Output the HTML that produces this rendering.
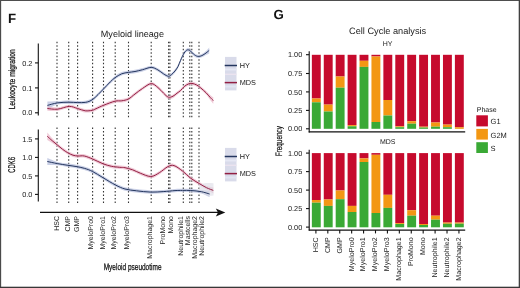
<!DOCTYPE html>
<html><head><meta charset="utf-8"><style>
html,body{margin:0;padding:0;background:#fff;}
svg{display:block;font-family:"Liberation Sans",sans-serif;text-rendering:geometricPrecision;will-change:transform;}
</style></head><body>
<svg width="520" height="288" viewBox="0 0 520 288">
<rect x="0" y="0" width="520" height="288" fill="#fff"/>
<text x="8" y="22.9" font-size="13.3" font-weight="bold" fill="#111">F</text>
<text x="132.4" y="37.3" font-size="9.1" text-anchor="middle" fill="#1a1a1a">Myeloid lineage</text>
<line x1="57" y1="41.75" x2="57" y2="117.6" stroke="#333" stroke-width="1.1" stroke-dasharray="1.5 2.02"/>
<line x1="57" y1="127.55" x2="57" y2="203.4" stroke="#333" stroke-width="1.1" stroke-dasharray="1.5 2.02"/>
<line x1="68.7" y1="41.75" x2="68.7" y2="117.6" stroke="#333" stroke-width="1.1" stroke-dasharray="1.5 2.02"/>
<line x1="68.7" y1="127.55" x2="68.7" y2="203.4" stroke="#333" stroke-width="1.1" stroke-dasharray="1.5 2.02"/>
<line x1="77.6" y1="41.75" x2="77.6" y2="117.6" stroke="#333" stroke-width="1.1" stroke-dasharray="1.5 2.02"/>
<line x1="77.6" y1="127.55" x2="77.6" y2="203.4" stroke="#333" stroke-width="1.1" stroke-dasharray="1.5 2.02"/>
<line x1="92.6" y1="41.75" x2="92.6" y2="117.6" stroke="#333" stroke-width="1.1" stroke-dasharray="1.5 2.02"/>
<line x1="92.6" y1="127.55" x2="92.6" y2="203.4" stroke="#333" stroke-width="1.1" stroke-dasharray="1.5 2.02"/>
<line x1="103.5" y1="41.75" x2="103.5" y2="117.6" stroke="#333" stroke-width="1.1" stroke-dasharray="1.5 2.02"/>
<line x1="103.5" y1="127.55" x2="103.5" y2="203.4" stroke="#333" stroke-width="1.1" stroke-dasharray="1.5 2.02"/>
<line x1="115.2" y1="41.75" x2="115.2" y2="117.6" stroke="#333" stroke-width="1.1" stroke-dasharray="1.5 2.02"/>
<line x1="115.2" y1="127.55" x2="115.2" y2="203.4" stroke="#333" stroke-width="1.1" stroke-dasharray="1.5 2.02"/>
<line x1="128.5" y1="41.75" x2="128.5" y2="117.6" stroke="#333" stroke-width="1.1" stroke-dasharray="1.5 2.02"/>
<line x1="128.5" y1="127.55" x2="128.5" y2="203.4" stroke="#333" stroke-width="1.1" stroke-dasharray="1.5 2.02"/>
<line x1="151.2" y1="41.75" x2="151.2" y2="117.6" stroke="#333" stroke-width="1.1" stroke-dasharray="1.5 2.02"/>
<line x1="151.2" y1="127.55" x2="151.2" y2="203.4" stroke="#333" stroke-width="1.1" stroke-dasharray="1.5 2.02"/>
<line x1="168.6" y1="41.75" x2="168.6" y2="117.6" stroke="#333" stroke-width="1.1" stroke-dasharray="1.5 2.02"/>
<line x1="168.6" y1="127.55" x2="168.6" y2="203.4" stroke="#333" stroke-width="1.1" stroke-dasharray="1.5 2.02"/>
<line x1="169.9" y1="41.75" x2="169.9" y2="117.6" stroke="#333" stroke-width="1.1" stroke-dasharray="1.5 2.02"/>
<line x1="169.9" y1="127.55" x2="169.9" y2="203.4" stroke="#333" stroke-width="1.1" stroke-dasharray="1.5 2.02"/>
<line x1="183.3" y1="41.75" x2="183.3" y2="117.6" stroke="#333" stroke-width="1.1" stroke-dasharray="1.5 2.02"/>
<line x1="183.3" y1="127.55" x2="183.3" y2="203.4" stroke="#333" stroke-width="1.1" stroke-dasharray="1.5 2.02"/>
<line x1="189.8" y1="41.75" x2="189.8" y2="117.6" stroke="#333" stroke-width="1.1" stroke-dasharray="1.5 2.02"/>
<line x1="189.8" y1="127.55" x2="189.8" y2="203.4" stroke="#333" stroke-width="1.1" stroke-dasharray="1.5 2.02"/>
<line x1="191.8" y1="41.75" x2="191.8" y2="117.6" stroke="#333" stroke-width="1.1" stroke-dasharray="1.5 2.02"/>
<line x1="191.8" y1="127.55" x2="191.8" y2="203.4" stroke="#333" stroke-width="1.1" stroke-dasharray="1.5 2.02"/>
<line x1="199" y1="41.75" x2="199" y2="117.6" stroke="#333" stroke-width="1.1" stroke-dasharray="1.5 2.02"/>
<line x1="199" y1="127.55" x2="199" y2="203.4" stroke="#333" stroke-width="1.1" stroke-dasharray="1.5 2.02"/>
<path d="M47.40,101.40 C49.07,101.37 53.87,101.35 57.40,101.20 C60.93,101.05 65.23,100.55 68.60,100.50 C71.97,100.45 74.83,100.87 77.60,100.90 C80.37,100.93 83.13,100.97 85.20,100.70 C87.27,100.43 88.53,99.97 90.00,99.30 C91.47,98.63 92.67,97.77 94.00,96.70 C95.33,95.63 96.40,94.48 98.00,92.90 C99.60,91.32 101.55,89.32 103.60,87.20 C105.65,85.08 108.40,82.07 110.30,80.20 C112.20,78.33 113.10,77.35 115.00,76.00 C116.90,74.65 119.47,72.98 121.70,72.10 C123.93,71.22 126.18,71.08 128.40,70.70 C130.62,70.32 132.63,70.25 135.00,69.80 C137.37,69.35 139.90,68.68 142.60,68.00 C145.30,67.32 148.65,65.67 151.20,65.70 C153.75,65.73 155.83,67.12 157.90,68.20 C159.97,69.28 161.85,71.13 163.60,72.20 C165.35,73.27 167.08,74.48 168.40,74.60 C169.72,74.72 170.40,73.78 171.50,72.90 C172.60,72.02 173.92,70.65 175.00,69.30 C176.08,67.95 177.08,66.55 178.00,64.80 C178.92,63.05 179.47,61.05 180.50,58.80 C181.53,56.55 183.07,53.07 184.20,51.30 C185.33,49.53 186.27,48.55 187.30,48.20 C188.33,47.85 189.37,48.50 190.40,49.20 C191.43,49.90 192.28,51.48 193.50,52.40 C194.72,53.32 196.30,54.45 197.70,54.70 C199.10,54.95 200.52,54.52 201.90,53.90 C203.28,53.28 204.78,52.07 206.00,50.99 C207.22,49.91 208.67,48.00 209.20,47.40 L209.20,53.40 C208.67,53.67 207.22,54.36 206.00,55.01 C204.78,55.66 203.28,56.79 201.90,57.30 C200.52,57.81 199.10,58.35 197.70,58.10 C196.30,57.85 194.72,56.72 193.50,55.80 C192.28,54.88 191.43,53.30 190.40,52.60 C189.37,51.90 188.33,51.25 187.30,51.60 C186.27,51.95 185.33,52.93 184.20,54.70 C183.07,56.47 181.53,59.95 180.50,62.20 C179.47,64.45 178.92,66.45 178.00,68.20 C177.08,69.95 176.08,71.35 175.00,72.70 C173.92,74.05 172.60,75.42 171.50,76.30 C170.40,77.18 169.72,78.12 168.40,78.00 C167.08,77.88 165.35,76.67 163.60,75.60 C161.85,74.53 159.97,72.68 157.90,71.60 C155.83,70.52 153.75,69.13 151.20,69.10 C148.65,69.07 145.30,70.72 142.60,71.40 C139.90,72.08 137.37,72.75 135.00,73.20 C132.63,73.65 130.62,73.72 128.40,74.10 C126.18,74.48 123.93,74.62 121.70,75.50 C119.47,76.38 116.90,78.05 115.00,79.40 C113.10,80.75 112.20,81.73 110.30,83.60 C108.40,85.47 105.65,88.48 103.60,90.60 C101.55,92.72 99.60,94.72 98.00,96.30 C96.40,97.88 95.33,99.03 94.00,100.10 C92.67,101.17 91.47,102.03 90.00,102.70 C88.53,103.37 87.27,103.83 85.20,104.10 C83.13,104.37 80.37,104.33 77.60,104.30 C74.83,104.27 71.97,103.85 68.60,103.90 C65.23,103.95 60.93,103.68 57.40,104.60 C53.87,105.52 49.07,108.60 47.40,109.40 Z" fill="#b4bcdc" opacity="0.7"/>
<path d="M47.40,106.30 C49.07,106.50 53.77,107.77 57.40,107.50 C61.03,107.23 65.83,104.82 69.20,104.70 C72.57,104.58 74.93,106.07 77.60,106.80 C80.27,107.53 82.77,108.80 85.20,109.10 C87.63,109.40 90.40,108.95 92.20,108.60 C94.00,108.25 94.10,107.83 96.00,107.00 C97.90,106.17 100.43,104.85 103.60,103.60 C106.77,102.35 111.98,100.25 115.00,99.50 C118.02,98.75 119.47,99.47 121.70,99.10 C123.93,98.73 126.18,98.43 128.40,97.30 C130.62,96.17 132.63,94.07 135.00,92.30 C137.37,90.53 139.90,88.43 142.60,86.70 C145.30,84.97 148.65,82.05 151.20,81.90 C153.75,81.75 155.83,84.20 157.90,85.80 C159.97,87.40 161.85,89.88 163.60,91.50 C165.35,93.12 166.83,95.00 168.40,95.50 C169.97,96.00 171.57,95.17 173.00,94.50 C174.43,93.83 175.75,92.43 177.00,91.50 C178.25,90.57 179.30,90.00 180.50,88.90 C181.70,87.80 182.90,86.00 184.20,84.90 C185.50,83.80 187.00,82.83 188.30,82.30 C189.60,81.77 190.60,81.53 192.00,81.70 C193.40,81.87 195.23,82.53 196.70,83.30 C198.17,84.07 199.25,85.04 200.80,86.30 C202.35,87.56 204.43,89.45 206.00,90.87 C207.57,92.30 208.98,93.81 210.20,94.88 C211.42,95.95 212.78,96.90 213.30,97.30 L213.30,103.70 C212.78,103.07 211.42,101.45 210.20,99.92 C208.98,98.39 207.57,96.23 206.00,94.53 C204.43,92.82 202.35,91.00 200.80,89.70 C199.25,88.40 198.17,87.47 196.70,86.70 C195.23,85.93 193.40,85.27 192.00,85.10 C190.60,84.93 189.60,85.17 188.30,85.70 C187.00,86.23 185.50,87.20 184.20,88.30 C182.90,89.40 181.70,91.20 180.50,92.30 C179.30,93.40 178.25,93.97 177.00,94.90 C175.75,95.83 174.43,97.23 173.00,97.90 C171.57,98.57 169.97,99.40 168.40,98.90 C166.83,98.40 165.35,96.52 163.60,94.90 C161.85,93.28 159.97,90.80 157.90,89.20 C155.83,87.60 153.75,85.15 151.20,85.30 C148.65,85.45 145.30,88.37 142.60,90.10 C139.90,91.83 137.37,93.93 135.00,95.70 C132.63,97.47 130.62,99.57 128.40,100.70 C126.18,101.83 123.93,102.13 121.70,102.50 C119.47,102.87 118.02,102.15 115.00,102.90 C111.98,103.65 106.77,105.75 103.60,107.00 C100.43,108.25 97.90,109.57 96.00,110.40 C94.10,111.23 94.00,111.65 92.20,112.00 C90.40,112.35 87.63,112.80 85.20,112.50 C82.77,112.20 80.27,110.93 77.60,110.20 C74.93,109.47 72.57,107.98 69.20,108.10 C65.83,108.22 61.03,110.47 57.40,110.90 C53.77,111.33 49.07,110.73 47.40,110.70 Z" fill="#eab4c6" opacity="0.7"/>
<path d="M47.30,132.50 C48.12,133.48 50.52,136.57 52.20,138.37 C53.88,140.17 55.67,141.76 57.40,143.30 C59.13,144.84 60.87,146.30 62.60,147.60 C64.33,148.90 66.07,150.12 67.80,151.10 C69.53,152.08 71.30,152.97 73.00,153.50 C74.70,154.03 76.12,154.17 78.00,154.30 C79.88,154.43 81.87,153.80 84.30,154.30 C86.73,154.80 89.48,156.01 92.60,157.30 C95.72,158.59 99.88,160.84 103.00,162.05 C106.12,163.26 108.52,163.96 111.30,164.55 C114.08,165.14 117.42,165.36 119.70,165.60 C121.98,165.84 122.85,165.58 125.00,166.00 C127.15,166.42 130.05,167.18 132.60,168.10 C135.15,169.02 137.27,170.38 140.30,171.50 C143.33,172.62 147.62,174.88 150.80,174.80 C153.98,174.72 156.55,172.65 159.40,171.00 C162.25,169.35 165.47,166.08 167.90,164.90 C170.33,163.72 171.57,163.17 174.00,163.90 C176.43,164.63 179.70,167.18 182.50,169.30 C185.30,171.42 188.02,174.52 190.80,176.60 C193.58,178.68 196.58,180.23 199.20,181.80 C201.82,183.37 204.15,185.07 206.50,186.00 C208.85,186.93 212.17,187.17 213.30,187.40 L213.30,193.40 C212.17,192.73 208.85,190.77 206.50,189.40 C204.15,188.03 201.82,186.77 199.20,185.20 C196.58,183.63 193.58,182.08 190.80,180.00 C188.02,177.92 185.30,174.82 182.50,172.70 C179.70,170.58 176.43,168.03 174.00,167.30 C171.57,166.57 170.33,167.12 167.90,168.30 C165.47,169.48 162.25,172.75 159.40,174.40 C156.55,176.05 153.98,178.12 150.80,178.20 C147.62,178.28 143.33,176.02 140.30,174.90 C137.27,173.78 135.15,172.42 132.60,171.50 C130.05,170.58 127.15,169.82 125.00,169.40 C122.85,168.98 121.98,169.24 119.70,169.00 C117.42,168.76 114.08,168.54 111.30,167.95 C108.52,167.36 106.12,166.66 103.00,165.45 C99.88,164.24 95.72,161.99 92.60,160.70 C89.48,159.41 86.73,158.20 84.30,157.70 C81.87,157.20 79.88,157.83 78.00,157.70 C76.12,157.57 74.70,157.43 73.00,156.90 C71.30,156.37 69.53,155.48 67.80,154.50 C66.07,153.52 64.33,152.30 62.60,151.00 C60.87,149.70 59.13,148.03 57.40,146.70 C55.67,145.37 53.88,144.13 52.20,143.03 C50.52,141.93 48.12,140.59 47.30,140.10 Z" fill="#eab4c6" opacity="0.7"/>
<path d="M47.30,158.00 C48.98,158.65 53.98,160.97 57.40,161.90 C60.82,162.83 64.70,163.12 67.80,163.60 C70.90,164.08 73.25,164.30 76.00,164.80 C78.75,165.30 81.53,165.77 84.30,166.60 C87.07,167.43 89.48,168.23 92.60,169.80 C95.72,171.37 99.18,173.75 103.00,176.00 C106.82,178.25 111.83,181.42 115.50,183.30 C119.17,185.18 121.50,186.33 125.00,187.30 C128.50,188.27 132.20,188.58 136.50,189.10 C140.80,189.62 146.35,190.27 150.80,190.40 C155.25,190.53 159.17,190.15 163.20,189.90 C167.23,189.65 171.78,189.10 175.00,188.90 C178.22,188.70 179.87,188.72 182.50,188.70 C185.13,188.68 187.67,188.58 190.80,188.80 C193.93,189.02 198.17,189.63 201.30,190.00 C204.43,190.37 208.22,190.83 209.60,191.00 L209.60,197.00 C208.22,196.40 204.43,194.20 201.30,193.40 C198.17,192.60 193.93,192.42 190.80,192.20 C187.67,191.98 185.13,192.08 182.50,192.10 C179.87,192.12 178.22,192.10 175.00,192.30 C171.78,192.50 167.23,193.05 163.20,193.30 C159.17,193.55 155.25,193.93 150.80,193.80 C146.35,193.67 140.80,193.02 136.50,192.50 C132.20,191.98 128.50,191.67 125.00,190.70 C121.50,189.73 119.17,188.58 115.50,186.70 C111.83,184.82 106.82,181.65 103.00,179.40 C99.18,177.15 95.72,174.77 92.60,173.20 C89.48,171.63 87.07,170.83 84.30,170.00 C81.53,169.17 78.75,168.70 76.00,168.20 C73.25,167.70 70.90,167.48 67.80,167.00 C64.70,166.52 60.82,165.63 57.40,165.30 C53.98,164.97 48.98,165.05 47.30,165.00 Z" fill="#b4bcdc" opacity="0.7"/>
<path d="M199,184.5 C203,182.8 208,182.6 213.5,183.2 L213.5,195.5 C208,196.5 203,195 199,191 Z" fill="#dcdce6" opacity="0.6"/>
<path d="M47.40,105.40 C49.07,104.98 53.87,103.43 57.40,102.90 C60.93,102.37 65.23,102.25 68.60,102.20 C71.97,102.15 74.83,102.57 77.60,102.60 C80.37,102.63 83.13,102.67 85.20,102.40 C87.27,102.13 88.53,101.67 90.00,101.00 C91.47,100.33 92.67,99.47 94.00,98.40 C95.33,97.33 96.40,96.18 98.00,94.60 C99.60,93.02 101.55,91.02 103.60,88.90 C105.65,86.78 108.40,83.77 110.30,81.90 C112.20,80.03 113.10,79.05 115.00,77.70 C116.90,76.35 119.47,74.68 121.70,73.80 C123.93,72.92 126.18,72.78 128.40,72.40 C130.62,72.02 132.63,71.95 135.00,71.50 C137.37,71.05 139.90,70.38 142.60,69.70 C145.30,69.02 148.65,67.37 151.20,67.40 C153.75,67.43 155.83,68.82 157.90,69.90 C159.97,70.98 161.85,72.83 163.60,73.90 C165.35,74.97 167.08,76.18 168.40,76.30 C169.72,76.42 170.40,75.48 171.50,74.60 C172.60,73.72 173.92,72.35 175.00,71.00 C176.08,69.65 177.08,68.25 178.00,66.50 C178.92,64.75 179.47,62.75 180.50,60.50 C181.53,58.25 183.07,54.77 184.20,53.00 C185.33,51.23 186.27,50.25 187.30,49.90 C188.33,49.55 189.37,50.20 190.40,50.90 C191.43,51.60 192.28,53.18 193.50,54.10 C194.72,55.02 196.30,56.15 197.70,56.40 C199.10,56.65 200.52,56.17 201.90,55.60 C203.28,55.03 204.78,53.87 206.00,53.00 C207.22,52.13 208.67,50.83 209.20,50.40" fill="none" stroke="#24365f" stroke-width="1.0"/>
<path d="M47.40,108.50 C49.07,108.62 53.77,109.55 57.40,109.20 C61.03,108.85 65.83,106.52 69.20,106.40 C72.57,106.28 74.93,107.77 77.60,108.50 C80.27,109.23 82.77,110.50 85.20,110.80 C87.63,111.10 90.40,110.65 92.20,110.30 C94.00,109.95 94.10,109.53 96.00,108.70 C97.90,107.87 100.43,106.55 103.60,105.30 C106.77,104.05 111.98,101.95 115.00,101.20 C118.02,100.45 119.47,101.17 121.70,100.80 C123.93,100.43 126.18,100.13 128.40,99.00 C130.62,97.87 132.63,95.77 135.00,94.00 C137.37,92.23 139.90,90.13 142.60,88.40 C145.30,86.67 148.65,83.75 151.20,83.60 C153.75,83.45 155.83,85.90 157.90,87.50 C159.97,89.10 161.85,91.58 163.60,93.20 C165.35,94.82 166.83,96.70 168.40,97.20 C169.97,97.70 171.57,96.87 173.00,96.20 C174.43,95.53 175.75,94.13 177.00,93.20 C178.25,92.27 179.30,91.70 180.50,90.60 C181.70,89.50 182.90,87.70 184.20,86.60 C185.50,85.50 187.00,84.53 188.30,84.00 C189.60,83.47 190.60,83.23 192.00,83.40 C193.40,83.57 195.23,84.23 196.70,85.00 C198.17,85.77 199.25,86.72 200.80,88.00 C202.35,89.28 204.43,91.13 206.00,92.70 C207.57,94.27 208.98,96.10 210.20,97.40 C211.42,98.70 212.78,99.98 213.30,100.50" fill="none" stroke="#921f42" stroke-width="1.0"/>
<path d="M47.30,136.30 C48.12,137.03 50.52,139.25 52.20,140.70 C53.88,142.15 55.67,143.57 57.40,145.00 C59.13,146.43 60.87,148.00 62.60,149.30 C64.33,150.60 66.07,151.82 67.80,152.80 C69.53,153.78 71.30,154.67 73.00,155.20 C74.70,155.73 76.12,155.87 78.00,156.00 C79.88,156.13 81.87,155.50 84.30,156.00 C86.73,156.50 89.48,157.71 92.60,159.00 C95.72,160.29 99.88,162.54 103.00,163.75 C106.12,164.96 108.52,165.66 111.30,166.25 C114.08,166.84 117.42,167.06 119.70,167.30 C121.98,167.54 122.85,167.28 125.00,167.70 C127.15,168.12 130.05,168.88 132.60,169.80 C135.15,170.72 137.27,172.08 140.30,173.20 C143.33,174.32 147.62,176.58 150.80,176.50 C153.98,176.42 156.55,174.35 159.40,172.70 C162.25,171.05 165.47,167.78 167.90,166.60 C170.33,165.42 171.57,164.87 174.00,165.60 C176.43,166.33 179.70,168.88 182.50,171.00 C185.30,173.12 188.02,176.22 190.80,178.30 C193.58,180.38 196.58,181.93 199.20,183.50 C201.82,185.07 204.15,186.55 206.50,187.70 C208.85,188.85 212.17,189.95 213.30,190.40" fill="none" stroke="#921f42" stroke-width="1.0"/>
<path d="M47.30,161.50 C48.98,161.85 53.98,162.97 57.40,163.60 C60.82,164.23 64.70,164.82 67.80,165.30 C70.90,165.78 73.25,166.00 76.00,166.50 C78.75,167.00 81.53,167.47 84.30,168.30 C87.07,169.13 89.48,169.93 92.60,171.50 C95.72,173.07 99.18,175.45 103.00,177.70 C106.82,179.95 111.83,183.12 115.50,185.00 C119.17,186.88 121.50,188.03 125.00,189.00 C128.50,189.97 132.20,190.28 136.50,190.80 C140.80,191.32 146.35,191.97 150.80,192.10 C155.25,192.23 159.17,191.85 163.20,191.60 C167.23,191.35 171.78,190.80 175.00,190.60 C178.22,190.40 179.87,190.42 182.50,190.40 C185.13,190.38 187.67,190.28 190.80,190.50 C193.93,190.72 198.17,191.12 201.30,191.70 C204.43,192.28 208.22,193.62 209.60,194.00" fill="none" stroke="#24365f" stroke-width="1.0"/>
<line x1="38.3" y1="43.5" x2="38.3" y2="115.4" stroke="#111" stroke-width="1.1"/>
<line x1="35" y1="62.9" x2="38.3" y2="62.9" stroke="#111" stroke-width="1.1"/>
<text x="32.3" y="65.55" font-size="7.3" text-anchor="end" fill="#1a1a1a">0.2</text>
<line x1="35" y1="87.9" x2="38.3" y2="87.9" stroke="#111" stroke-width="1.1"/>
<text x="32.3" y="90.55" font-size="7.3" text-anchor="end" fill="#1a1a1a">0.1</text>
<line x1="35" y1="112.8" x2="38.3" y2="112.8" stroke="#111" stroke-width="1.1"/>
<text x="32.3" y="115.45" font-size="7.3" text-anchor="end" fill="#1a1a1a">0.0</text>
<line x1="38.3" y1="129.4" x2="38.3" y2="201.5" stroke="#111" stroke-width="1.1"/>
<line x1="35" y1="138.9" x2="38.3" y2="138.9" stroke="#111" stroke-width="1.1"/>
<text x="32.3" y="141.55" font-size="7.3" text-anchor="end" fill="#1a1a1a">1.5</text>
<line x1="35" y1="157.4" x2="38.3" y2="157.4" stroke="#111" stroke-width="1.1"/>
<text x="32.3" y="160.05" font-size="7.3" text-anchor="end" fill="#1a1a1a">1.0</text>
<line x1="35" y1="175.9" x2="38.3" y2="175.9" stroke="#111" stroke-width="1.1"/>
<text x="32.3" y="178.55" font-size="7.3" text-anchor="end" fill="#1a1a1a">0.5</text>
<line x1="35" y1="194.4" x2="38.3" y2="194.4" stroke="#111" stroke-width="1.1"/>
<text x="32.3" y="197.05" font-size="7.3" text-anchor="end" fill="#1a1a1a">0.0</text>
<line x1="40" y1="212.4" x2="218" y2="212.4" stroke="#111" stroke-width="1.2"/>
<path d="M225.3,212.4 L215.8,208.4 L218,212.4 L215.8,216.4 Z" fill="#111"/>
<text transform="translate(15.3,79.3) rotate(-90) scale(0.757,1)" font-size="8.9" text-anchor="middle" fill="#111" stroke="#111" stroke-width="0.25">Leukocyte migration</text>
<text transform="translate(15.4,164.9) rotate(-90) scale(0.6,1)" font-size="9.8" text-anchor="middle" fill="#111" stroke="#111" stroke-width="0.25">CDK6</text>
<text transform="translate(59.2,216) rotate(-90)" font-size="7" text-anchor="end" fill="#1a1a1a">HSC</text>
<text transform="translate(70.2,216) rotate(-90)" font-size="7" text-anchor="end" fill="#1a1a1a">CMP</text>
<text transform="translate(79.2,216) rotate(-90)" font-size="7" text-anchor="end" fill="#1a1a1a">GMP</text>
<text transform="translate(93.3,216) rotate(-90)" font-size="7" text-anchor="end" fill="#1a1a1a">MyeloPro0</text>
<text transform="translate(104.5,216) rotate(-90)" font-size="7" text-anchor="end" fill="#1a1a1a">MyeloPro1</text>
<text transform="translate(116.3,216) rotate(-90)" font-size="7" text-anchor="end" fill="#1a1a1a">MyeloPro2</text>
<text transform="translate(128.6,216) rotate(-90)" font-size="7" text-anchor="end" fill="#1a1a1a">MyeloPro3</text>
<text transform="translate(152.4,216) rotate(-90)" font-size="7" text-anchor="end" fill="#1a1a1a">Macrophage1</text>
<text transform="translate(165.3,216) rotate(-90)" font-size="7" text-anchor="end" fill="#1a1a1a">ProMono</text>
<text transform="translate(173,216) rotate(-90)" font-size="7" text-anchor="end" fill="#1a1a1a">Mono</text>
<text transform="translate(183,216) rotate(-90)" font-size="7" text-anchor="end" fill="#1a1a1a">Neutrophile1</text>
<text transform="translate(190.4,216) rotate(-90)" font-size="7" text-anchor="end" fill="#1a1a1a">Mastcells</text>
<text transform="translate(197.4,216) rotate(-90)" font-size="7" text-anchor="end" fill="#1a1a1a">Macrophage2</text>
<text transform="translate(203.6,216) rotate(-90)" font-size="7" text-anchor="end" fill="#1a1a1a">Neutrophile2</text>
<text transform="translate(132.6,270.2) scale(0.70,1)" font-size="9.3" text-anchor="middle" fill="#111" stroke="#111" stroke-width="0.25">Myeloid pseudotime</text>
<rect x="225" y="56.9" width="11.5" height="33.5" fill="#d9dbea"/>
<rect x="225" y="68.5" width="11.5" height="2" fill="#e6e8f4"/>
<rect x="225" y="73.6" width="11.5" height="1.4" fill="#ebe3ef"/>
<rect x="225" y="85.5" width="11.5" height="2" fill="#e2e6f2"/>
<line x1="224.7" y1="65.5" x2="237" y2="65.5" stroke="#24365f" stroke-width="1.5"/>
<line x1="224.7" y1="82.6" x2="237" y2="82.6" stroke="#921f42" stroke-width="1.5"/>
<text x="239.7" y="68.2" font-size="7.3" fill="#1a1a1a">HY</text>
<text x="239.7" y="84.9" font-size="7.3" fill="#1a1a1a">MDS</text>
<rect x="225" y="147.9" width="11.5" height="33.5" fill="#d9dbea"/>
<rect x="225" y="159.5" width="11.5" height="2" fill="#e6e8f4"/>
<rect x="225" y="164.6" width="11.5" height="1.4" fill="#ebe3ef"/>
<rect x="225" y="176.5" width="11.5" height="2" fill="#e2e6f2"/>
<line x1="224.7" y1="156.5" x2="237" y2="156.5" stroke="#24365f" stroke-width="1.5"/>
<line x1="224.7" y1="173.6" x2="237" y2="173.6" stroke="#921f42" stroke-width="1.5"/>
<text x="239.7" y="159.2" font-size="7.3" fill="#1a1a1a">HY</text>
<text x="239.7" y="175.9" font-size="7.3" fill="#1a1a1a">MDS</text>
<text x="273.4" y="18.6" font-size="13.3" font-weight="bold" fill="#111">G</text>
<text x="387.6" y="34.4" font-size="9.2" text-anchor="middle" fill="#1a1a1a">Cell Cycle analysis</text>
<text x="387.5" y="45.7" font-size="7" text-anchor="middle" fill="#1a1a1a">HY</text>
<text x="387.7" y="143.8" font-size="7" text-anchor="middle" fill="#1a1a1a">MDS</text>
<rect x="311.85" y="54.8" width="8.9" height="43.70" fill="#c60a2d"/>
<rect x="311.85" y="98.5" width="8.9" height="3.80" fill="#f39713"/>
<rect x="311.85" y="102.3" width="8.9" height="26.50" fill="#3aa935"/>
<rect x="323.77" y="54.8" width="8.9" height="49.80" fill="#c60a2d"/>
<rect x="323.77" y="104.6" width="8.9" height="6.90" fill="#f39713"/>
<rect x="323.77" y="111.5" width="8.9" height="17.30" fill="#3aa935"/>
<rect x="335.69" y="54.8" width="8.9" height="21.70" fill="#c60a2d"/>
<rect x="335.69" y="76.5" width="8.9" height="11.20" fill="#f39713"/>
<rect x="335.69" y="87.7" width="8.9" height="41.10" fill="#3aa935"/>
<rect x="347.61" y="54.8" width="8.9" height="70.30" fill="#c60a2d"/>
<rect x="347.61" y="125.1" width="8.9" height="1.20" fill="#f39713"/>
<rect x="347.61" y="126.3" width="8.9" height="2.50" fill="#3aa935"/>
<rect x="359.53" y="54.8" width="8.9" height="6.00" fill="#c60a2d"/>
<rect x="359.53" y="60.8" width="8.9" height="6.10" fill="#f39713"/>
<rect x="359.53" y="66.9" width="8.9" height="61.90" fill="#3aa935"/>
<rect x="371.45" y="54.8" width="8.9" height="1.70" fill="#c60a2d"/>
<rect x="371.45" y="56.5" width="8.9" height="65.50" fill="#f39713"/>
<rect x="371.45" y="122" width="8.9" height="6.80" fill="#3aa935"/>
<rect x="383.37" y="54.8" width="8.9" height="45.20" fill="#c60a2d"/>
<rect x="383.37" y="100" width="8.9" height="15.50" fill="#f39713"/>
<rect x="383.37" y="115.5" width="8.9" height="13.30" fill="#3aa935"/>
<rect x="395.29" y="54.8" width="8.9" height="71.50" fill="#c60a2d"/>
<rect x="395.29" y="126.3" width="8.9" height="0.90" fill="#f39713"/>
<rect x="395.29" y="127.2" width="8.9" height="1.60" fill="#3aa935"/>
<rect x="407.21" y="54.8" width="8.9" height="66.40" fill="#c60a2d"/>
<rect x="407.21" y="121.2" width="8.9" height="2.50" fill="#f39713"/>
<rect x="407.21" y="123.7" width="8.9" height="5.10" fill="#3aa935"/>
<rect x="419.13" y="54.8" width="8.9" height="71.90" fill="#c60a2d"/>
<rect x="419.13" y="126.7" width="8.9" height="0.80" fill="#f39713"/>
<rect x="419.13" y="127.5" width="8.9" height="1.30" fill="#3aa935"/>
<rect x="431.05" y="54.8" width="8.9" height="67.70" fill="#c60a2d"/>
<rect x="431.05" y="122.5" width="8.9" height="4.20" fill="#f39713"/>
<rect x="431.05" y="126.7" width="8.9" height="2.10" fill="#3aa935"/>
<rect x="442.97" y="54.8" width="8.9" height="69.80" fill="#c60a2d"/>
<rect x="442.97" y="124.6" width="8.9" height="2.60" fill="#f39713"/>
<rect x="442.97" y="127.2" width="8.9" height="1.60" fill="#3aa935"/>
<rect x="454.89" y="54.8" width="8.9" height="72.40" fill="#c60a2d"/>
<rect x="454.89" y="127.2" width="8.9" height="1.60" fill="#f39713"/>
<rect x="454.89" y="128.8" width="8.9" height="0.00" fill="#3aa935"/>
<rect x="311.85" y="153.1" width="8.9" height="46.90" fill="#c60a2d"/>
<rect x="311.85" y="200" width="8.9" height="2.70" fill="#f39713"/>
<rect x="311.85" y="202.7" width="8.9" height="24.60" fill="#3aa935"/>
<rect x="323.77" y="153.1" width="8.9" height="46.40" fill="#c60a2d"/>
<rect x="323.77" y="199.5" width="8.9" height="6.40" fill="#f39713"/>
<rect x="323.77" y="205.9" width="8.9" height="21.40" fill="#3aa935"/>
<rect x="335.69" y="153.1" width="8.9" height="37.40" fill="#c60a2d"/>
<rect x="335.69" y="190.5" width="8.9" height="8.70" fill="#f39713"/>
<rect x="335.69" y="199.2" width="8.9" height="28.10" fill="#3aa935"/>
<rect x="347.61" y="153.1" width="8.9" height="52.80" fill="#c60a2d"/>
<rect x="347.61" y="205.9" width="8.9" height="6.10" fill="#f39713"/>
<rect x="347.61" y="212" width="8.9" height="15.30" fill="#3aa935"/>
<rect x="359.53" y="153.1" width="8.9" height="5.30" fill="#c60a2d"/>
<rect x="359.53" y="158.4" width="8.9" height="3.60" fill="#f39713"/>
<rect x="359.53" y="162" width="8.9" height="65.30" fill="#3aa935"/>
<rect x="371.45" y="153.1" width="8.9" height="1.70" fill="#c60a2d"/>
<rect x="371.45" y="154.8" width="8.9" height="58.20" fill="#f39713"/>
<rect x="371.45" y="213" width="8.9" height="14.30" fill="#3aa935"/>
<rect x="383.37" y="153.1" width="8.9" height="41.70" fill="#c60a2d"/>
<rect x="383.37" y="194.8" width="8.9" height="13.10" fill="#f39713"/>
<rect x="383.37" y="207.9" width="8.9" height="19.40" fill="#3aa935"/>
<rect x="395.29" y="153.1" width="8.9" height="70.00" fill="#c60a2d"/>
<rect x="395.29" y="223.1" width="8.9" height="0.90" fill="#f39713"/>
<rect x="395.29" y="224" width="8.9" height="3.30" fill="#3aa935"/>
<rect x="407.21" y="153.1" width="8.9" height="57.10" fill="#c60a2d"/>
<rect x="407.21" y="210.2" width="8.9" height="5.50" fill="#f39713"/>
<rect x="407.21" y="215.7" width="8.9" height="11.60" fill="#3aa935"/>
<rect x="419.13" y="153.1" width="8.9" height="70.90" fill="#c60a2d"/>
<rect x="419.13" y="224" width="8.9" height="1.00" fill="#f39713"/>
<rect x="419.13" y="225" width="8.9" height="2.30" fill="#3aa935"/>
<rect x="431.05" y="153.1" width="8.9" height="62.60" fill="#c60a2d"/>
<rect x="431.05" y="215.7" width="8.9" height="4.00" fill="#f39713"/>
<rect x="431.05" y="219.7" width="8.9" height="7.60" fill="#3aa935"/>
<rect x="442.97" y="153.1" width="8.9" height="69.50" fill="#c60a2d"/>
<rect x="442.97" y="222.6" width="8.9" height="1.20" fill="#f39713"/>
<rect x="442.97" y="223.8" width="8.9" height="3.50" fill="#3aa935"/>
<rect x="454.89" y="153.1" width="8.9" height="69.50" fill="#c60a2d"/>
<rect x="454.89" y="222.6" width="8.9" height="1.10" fill="#f39713"/>
<rect x="454.89" y="223.7" width="8.9" height="3.60" fill="#3aa935"/>
<line x1="309.2" y1="51.2" x2="309.2" y2="132.4" stroke="#111" stroke-width="1.1"/>
<line x1="308.7" y1="131.9" x2="465.2" y2="131.9" stroke="#111" stroke-width="1.1"/>
<line x1="306" y1="54.7" x2="309.2" y2="54.7" stroke="#111" stroke-width="1.1"/>
<text x="302.2" y="57.35" font-size="7.3" text-anchor="end" fill="#1a1a1a">1.00</text>
<line x1="306" y1="73.5" x2="309.2" y2="73.5" stroke="#111" stroke-width="1.1"/>
<text x="302.2" y="76.15" font-size="7.3" text-anchor="end" fill="#1a1a1a">0.75</text>
<line x1="306" y1="91.9" x2="309.2" y2="91.9" stroke="#111" stroke-width="1.1"/>
<text x="302.2" y="94.55" font-size="7.3" text-anchor="end" fill="#1a1a1a">0.50</text>
<line x1="306" y1="110.4" x2="309.2" y2="110.4" stroke="#111" stroke-width="1.1"/>
<text x="302.2" y="113.05" font-size="7.3" text-anchor="end" fill="#1a1a1a">0.25</text>
<line x1="306" y1="128.8" x2="309.2" y2="128.8" stroke="#111" stroke-width="1.1"/>
<text x="302.2" y="131.45" font-size="7.3" text-anchor="end" fill="#1a1a1a">0.00</text>
<line x1="309.2" y1="149.7" x2="309.2" y2="230.6" stroke="#111" stroke-width="1.1"/>
<line x1="308.7" y1="230.1" x2="465.2" y2="230.1" stroke="#111" stroke-width="1.1"/>
<line x1="306" y1="153.1" x2="309.2" y2="153.1" stroke="#111" stroke-width="1.1"/>
<text x="302.2" y="155.75" font-size="7.3" text-anchor="end" fill="#1a1a1a">1.00</text>
<line x1="306" y1="171.6" x2="309.2" y2="171.6" stroke="#111" stroke-width="1.1"/>
<text x="302.2" y="174.25" font-size="7.3" text-anchor="end" fill="#1a1a1a">0.75</text>
<line x1="306" y1="190.1" x2="309.2" y2="190.1" stroke="#111" stroke-width="1.1"/>
<text x="302.2" y="192.75" font-size="7.3" text-anchor="end" fill="#1a1a1a">0.50</text>
<line x1="306" y1="208.6" x2="309.2" y2="208.6" stroke="#111" stroke-width="1.1"/>
<text x="302.2" y="211.25" font-size="7.3" text-anchor="end" fill="#1a1a1a">0.25</text>
<line x1="306" y1="227.1" x2="309.2" y2="227.1" stroke="#111" stroke-width="1.1"/>
<text x="302.2" y="229.75" font-size="7.3" text-anchor="end" fill="#1a1a1a">0.00</text>
<line x1="315.90" y1="230.1" x2="315.90" y2="233.4" stroke="#111" stroke-width="1.1"/>
<line x1="327.82" y1="230.1" x2="327.82" y2="233.4" stroke="#111" stroke-width="1.1"/>
<line x1="339.74" y1="230.1" x2="339.74" y2="233.4" stroke="#111" stroke-width="1.1"/>
<line x1="351.66" y1="230.1" x2="351.66" y2="233.4" stroke="#111" stroke-width="1.1"/>
<line x1="363.58" y1="230.1" x2="363.58" y2="233.4" stroke="#111" stroke-width="1.1"/>
<line x1="375.50" y1="230.1" x2="375.50" y2="233.4" stroke="#111" stroke-width="1.1"/>
<line x1="387.42" y1="230.1" x2="387.42" y2="233.4" stroke="#111" stroke-width="1.1"/>
<line x1="399.34" y1="230.1" x2="399.34" y2="233.4" stroke="#111" stroke-width="1.1"/>
<line x1="411.26" y1="230.1" x2="411.26" y2="233.4" stroke="#111" stroke-width="1.1"/>
<line x1="423.18" y1="230.1" x2="423.18" y2="233.4" stroke="#111" stroke-width="1.1"/>
<line x1="435.10" y1="230.1" x2="435.10" y2="233.4" stroke="#111" stroke-width="1.1"/>
<line x1="447.02" y1="230.1" x2="447.02" y2="233.4" stroke="#111" stroke-width="1.1"/>
<line x1="458.94" y1="230.1" x2="458.94" y2="233.4" stroke="#111" stroke-width="1.1"/>
<text transform="translate(317.80,237.3) rotate(-90)" font-size="7.1" text-anchor="end" fill="#1a1a1a">HSC</text>
<text transform="translate(329.72,237.3) rotate(-90)" font-size="7.1" text-anchor="end" fill="#1a1a1a">CMP</text>
<text transform="translate(341.64,237.3) rotate(-90)" font-size="7.1" text-anchor="end" fill="#1a1a1a">GMP</text>
<text transform="translate(353.56,237.3) rotate(-90)" font-size="7.1" text-anchor="end" fill="#1a1a1a">MyeloPro0</text>
<text transform="translate(365.48,237.3) rotate(-90)" font-size="7.1" text-anchor="end" fill="#1a1a1a">MyeloPro1</text>
<text transform="translate(377.40,237.3) rotate(-90)" font-size="7.1" text-anchor="end" fill="#1a1a1a">MyeloPro2</text>
<text transform="translate(389.32,237.3) rotate(-90)" font-size="7.1" text-anchor="end" fill="#1a1a1a">MyeloPro3</text>
<text transform="translate(401.24,237.3) rotate(-90)" font-size="7.1" text-anchor="end" fill="#1a1a1a">Macrophage1</text>
<text transform="translate(413.16,237.3) rotate(-90)" font-size="7.1" text-anchor="end" fill="#1a1a1a">ProMono</text>
<text transform="translate(425.08,237.3) rotate(-90)" font-size="7.1" text-anchor="end" fill="#1a1a1a">Mono</text>
<text transform="translate(437.00,237.3) rotate(-90)" font-size="7.1" text-anchor="end" fill="#1a1a1a">Neutrophile1</text>
<text transform="translate(448.92,237.3) rotate(-90)" font-size="7.1" text-anchor="end" fill="#1a1a1a">Neutrophile2</text>
<text transform="translate(460.84,237.3) rotate(-90)" font-size="7.1" text-anchor="end" fill="#1a1a1a">Macrophage2</text>
<text transform="translate(281.8,141.2) rotate(-90) scale(0.68,1)" font-size="9.4" text-anchor="middle" fill="#111" stroke="#111" stroke-width="0.2">Frequency</text>
<text x="476.8" y="111.8" font-size="7" fill="#1a1a1a">Phase</text>
<rect x="476.3" y="115.3" width="11.6" height="11.1" fill="#c60a2d"/>
<text x="490.6" y="124.0" font-size="7.5" fill="#1a1a1a">G1</text>
<rect x="476.3" y="128.9" width="11.6" height="10.7" fill="#f39713"/>
<text x="490.6" y="137.8" font-size="7.5" fill="#1a1a1a">G2M</text>
<rect x="476.3" y="142.2" width="11.6" height="10.8" fill="#3aa935"/>
<text x="490.6" y="150.7" font-size="7.5" fill="#1a1a1a">S</text>
<rect x="0" y="0" width="1.15" height="288" fill="#4a4a4a"/>
<rect x="0" y="0" width="520" height="1.0" fill="#4e4e4e"/>
<rect x="518.7" y="0" width="1.3" height="288" fill="#404040"/>
<rect x="0" y="286.7" width="520" height="1.3" fill="#383838"/>
</svg>
</body></html>
